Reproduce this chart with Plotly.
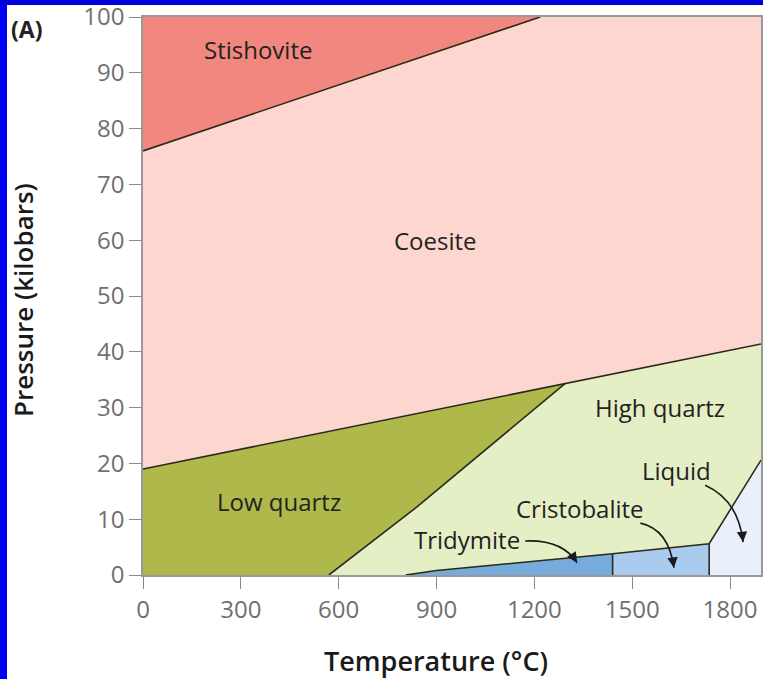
import plotly.graph_objects as go

# ---- data (temperature in °C, pressure in kilobars) ----
stish_T = [0, 1218, 0]
stish_P = [76, 100, 100]

coes_T = [0, 1294, 1895, 1895, 1218, 0]
coes_P = [19, 34.3, 41.4, 100, 100, 76]

lowq_T = [0, 570, 840, 1294, 0]
lowq_P = [0, 0, 12.2, 34.3, 19]

highq_T = [570, 805, 900, 1440, 1736, 1895, 1895, 1294, 840]
highq_P = [0, 0, 0.8, 3.8, 5.6, 20.6, 41.4, 34.3, 12.2]

trid_T = [805, 900, 1440, 1440]
trid_P = [0, 0.8, 3.8, 0]

crist_T = [1440, 1440, 1736, 1736]
crist_P = [0, 3.8, 5.6, 0]

liq_T = [1736, 1736, 1895, 1895]
liq_P = [0, 5.6, 20.6, 0]

# boundary lines
b_stish_T, b_stish_P = [0, 1218], [76, 100]
b_coes_T, b_coes_P = [0, 1294, 1895], [19, 34.3, 41.4]
b_quartz_T, b_quartz_P = [570, 840, 1294], [0, 12.2, 34.3]
b_trid_T, b_trid_P = [805, 900, 1440, 1736, 1895], [0, 0.8, 3.8, 5.6, 20.6]
b_v1_T, b_v1_P = [1440, 1440], [0, 3.8]
b_v2_T, b_v2_P = [1736, 1736], [0, 5.6]

x_ticks = [0, 300, 600, 900, 1200, 1500, 1800]
y_ticks = [0, 10, 20, 30, 40, 50, 60, 70, 80, 90, 100]

labels = ["Stishovite", "Coesite", "High quartz", "Low quartz", "Liquid", "Cristobalite", "Tridymite"]
label_T = [354, 896, 1586, 418, 1635, 1340, 994]
label_P = [94.1, 60.0, 30.1, 13.1, 18.8, 12.0, 6.3]

# curved arrows: start, control, tip
arrows = [
    ((1172, 6.1), (1285, 6.4), (1331, 2.2)),
    ((1525, 9.3), (1612, 8.2), (1628, 1.3)),
    ((1724, 16.1), (1826, 13.4), (1840, 5.9)),
]

FONT = "Open Sans"

fig = go.Figure()

regions = [
    (stish_T, stish_P, "#f2877f"),
    (coes_T, coes_P, "#fdd6cf"),
    (lowq_T, lowq_P, "#aeb84b"),
    (highq_T, highq_P, "#e5efc5"),
    (trid_T, trid_P, "#77abdc"),
    (crist_T, crist_P, "#a9cbee"),
    (liq_T, liq_P, "#e9f0fb"),
]
for T, P, c in regions:
    fig.add_trace(go.Scatter(x=T, y=P, fill="toself", fillcolor=c, mode="lines",
                             line=dict(width=0, color=c), hoverinfo="skip", showlegend=False))

for T, P in [(b_stish_T, b_stish_P), (b_coes_T, b_coes_P), (b_quartz_T, b_quartz_P),
             (b_trid_T, b_trid_P), (b_v1_T, b_v1_P), (b_v2_T, b_v2_P)]:
    fig.add_trace(go.Scatter(x=T, y=P, mode="lines", line=dict(width=1.6, color="#2a2a1a"),
                             hoverinfo="skip", showlegend=False))

for t, T, P in zip(labels, label_T, label_P):
    fig.add_annotation(x=T, y=P, text=t, showarrow=False,
                       font=dict(family=FONT, size=24, color="#222222"))

shapes = []
for (s, c, e) in arrows:
    shapes.append(dict(type="path", xref="x", yref="y",
                       path=f"M {s[0]},{s[1]} Q {c[0]},{c[1]} {e[0]},{e[1]}",
                       line=dict(color="#1a1a1a", width=1.6)))
    # arrowhead along the final tangent
    ax = e[0] + (c[0] - e[0]) * 0.25
    ay = e[1] + (c[1] - e[1]) * 0.25
    fig.add_annotation(x=e[0], y=e[1], ax=ax, ay=ay, axref="x", ayref="y", xref="x", yref="y",
                       text="", showarrow=True, arrowhead=2, arrowsize=1.3, arrowwidth=1.6,
                       arrowcolor="#1a1a1a", standoff=0)

# plot-area pixel box, used to place frame and titles in paper coords
L, R, T_, B = 143, 761, 17, 575
W, H = R - L, B - T_
def px(x):
    return (x - L) / W
def py(y):
    return (B - y) / H
shapes.append(dict(type="rect", xref="paper", yref="paper", x0=px(0), x1=px(7), y0=py(679), y1=py(0),
                   fillcolor="#0000f5", line=dict(width=0), layer="above"))
shapes.append(dict(type="rect", xref="paper", yref="paper", x0=px(0), x1=px(763), y0=py(5), y1=py(0),
                   fillcolor="#0000d8", line=dict(width=0), layer="above"))

fig.add_annotation(xref="paper", yref="paper", x=px(9), y=py(29), xanchor="left", yanchor="middle",
                   text="<b>(A)</b>", showarrow=False, font=dict(family=FONT, size=23, color="#222"))
fig.add_annotation(xref="paper", yref="paper", x=px(436), y=py(660), xanchor="center", yanchor="middle",
                   text="Temperature (°C)", showarrow=False,
                   font=dict(family=FONT, size=27, color="#1a1a1a", weight=600))
fig.add_annotation(xref="paper", yref="paper", x=px(23), y=py(300), xanchor="center", yanchor="middle",
                   text="Pressure (kilobars)", textangle=-90, showarrow=False,
                   font=dict(family=FONT, size=26, color="#1a1a1a", weight=600))

fig.update_layout(
    width=763, height=679,
    margin=dict(l=L, r=763 - R, t=T_, b=679 - B, autoexpand=False),
    paper_bgcolor="white", plot_bgcolor="white",
    shapes=shapes,
    showlegend=False,
    xaxis=dict(range=[0, 1895], tickvals=x_ticks, ticks="outside", ticklen=12, tickcolor="#888",
               showline=True, linecolor="#999", linewidth=1.5, mirror=True, showgrid=False, zeroline=False,
               ticklabeloverflow="allow", automargin=False,
               tickfont=dict(family=FONT, size=24, color="#707070")),
    yaxis=dict(range=[0, 100], tickvals=y_ticks, ticks="outside", ticklen=12, tickcolor="#888",
               showline=True, linecolor="#999", linewidth=1.5, mirror=True, showgrid=False, zeroline=False,
               ticklabeloverflow="allow", automargin=False,
               tickfont=dict(family=FONT, size=24, color="#707070")),
)

fig.write_html("out.html")
